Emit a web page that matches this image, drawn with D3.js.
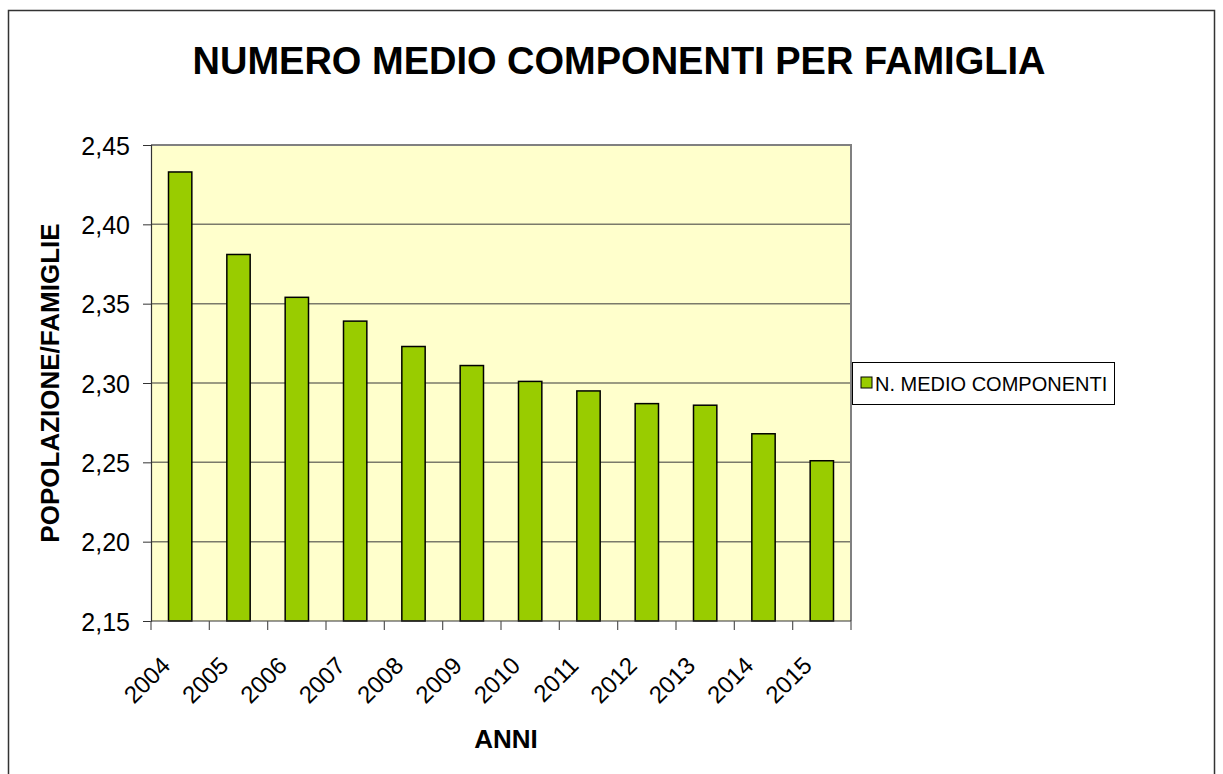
<!DOCTYPE html>
<html><head><meta charset="utf-8">
<script src="https://cdn.jsdelivr.net/npm/d3@7/dist/d3.min.js"></script>
<style>body{margin:0;background:#fff}svg{display:block}text{font-family:"Liberation Sans",Arial,sans-serif}</style>
</head><body>
<svg id="c" width="1223" height="774"></svg>
<script>
const years = ["2004","2005","2006","2007","2008","2009","2010","2011","2012","2013","2014","2015"];
const values = [2.433,2.381,2.354,2.339,2.323,2.311,2.301,2.295,2.287,2.286,2.268,2.251];
const yTicks = [2.15,2.20,2.25,2.30,2.35,2.40,2.45];
const title = "NUMERO MEDIO COMPONENTI PER FAMIGLIA";
const yTitle = "POPOLAZIONE/FAMIGLIE";
const xTitle = "ANNI";
const seriesName = "N. MEDIO COMPONENTI";

const svg = d3.select("#c");
const L=151, R=851, T=145, B=621;

svg.append("rect").attr("x",8.5).attr("y",10.5).attr("width",1206).attr("height",780)
  .attr("fill","#fff").attr("stroke","#333").attr("stroke-width",1.5);

svg.append("text").attr("x",619).attr("y",74).attr("text-anchor","middle")
  .attr("font-size",38).attr("font-weight","bold").text(title);

const x = d3.scaleBand().domain(years).range([L,R]).paddingInner(0.6).paddingOuter(0.3);
const xb = d3.scaleBand().domain(years).range([L,R]);
const y = d3.scaleLinear().domain([2.15,2.45]).range([B,T]);

svg.append("rect").attr("x",L).attr("y",T).attr("width",R-L).attr("height",B-T).attr("fill","#FFFFCC");

svg.append("g").selectAll("line").data(yTicks.slice(1,-1)).join("line")
  .attr("x1",L).attr("x2",R).attr("y1",d=>y(d)).attr("y2",d=>y(d))
  .attr("stroke","#7a7a6a").attr("stroke-width",1.5);

svg.append("path").attr("d",`M${L},${T}H${R}V${B}`).attr("fill","none").attr("stroke","#808080").attr("stroke-width",2);

svg.append("g").selectAll("rect").data(years).join("rect")
  .attr("x",d=>x(d)).attr("width",x.bandwidth())
  .attr("y",(d,i)=>y(values[i])).attr("height",(d,i)=>B-y(values[i]))
  .attr("fill","#99CC00").attr("stroke","#000").attr("stroke-width",1.5);

const yAxis = d3.axisLeft(y).tickValues(yTicks).tickSize(8).tickPadding(13)
  .tickFormat(d=>d3.format(".2f")(d).replace(".",","));
const gy = svg.append("g").attr("transform",`translate(${L},0)`).call(yAxis);
gy.select(".domain").attr("stroke","#333").attr("stroke-width",1.2);
gy.selectAll(".tick line").attr("stroke","#333");
gy.selectAll("text").attr("font-size",25).attr("fill","#000").attr("dy","0.36em");

svg.append("line").attr("x1",L).attr("x2",R).attr("y1",B).attr("y2",B).attr("stroke","#333").attr("stroke-width",1.2);
const bounds = years.map(d=>xb(d)).concat([R]);
svg.append("g").selectAll("line").data(bounds).join("line")
  .attr("x1",d=>d).attr("x2",d=>d).attr("y1",B).attr("y2",B+9).attr("stroke","#555").attr("stroke-width",1.2);
svg.append("g").selectAll("text").data(years).join("text")
  .attr("transform",d=>`translate(${xb(d)+xb.bandwidth()/2-8.5},${B+46}) rotate(-45)`)
  .attr("text-anchor","end").attr("font-size",24).text(d=>d);

svg.append("text").attr("transform",`translate(59,383) rotate(-90)`).attr("text-anchor","middle")
  .attr("font-size",26).attr("font-weight","bold").text(yTitle);
svg.append("text").attr("x",506).attr("y",748).attr("text-anchor","middle")
  .attr("font-size",26).attr("font-weight","bold").text(xTitle);

// legend
const lg = svg.append("g");
lg.append("rect").attr("x",852.5).attr("y",362.5).attr("width",262).attr("height",42).attr("fill","#fff").attr("stroke","#000").attr("stroke-width",1);
lg.append("rect").attr("x",861).attr("y",377).attr("width",11).attr("height",11).attr("fill","#99CC00").attr("stroke","#000").attr("stroke-width",1);
lg.append("text").attr("x",875).attr("y",391).attr("font-size",20).text(seriesName);
</script>
</body></html>
